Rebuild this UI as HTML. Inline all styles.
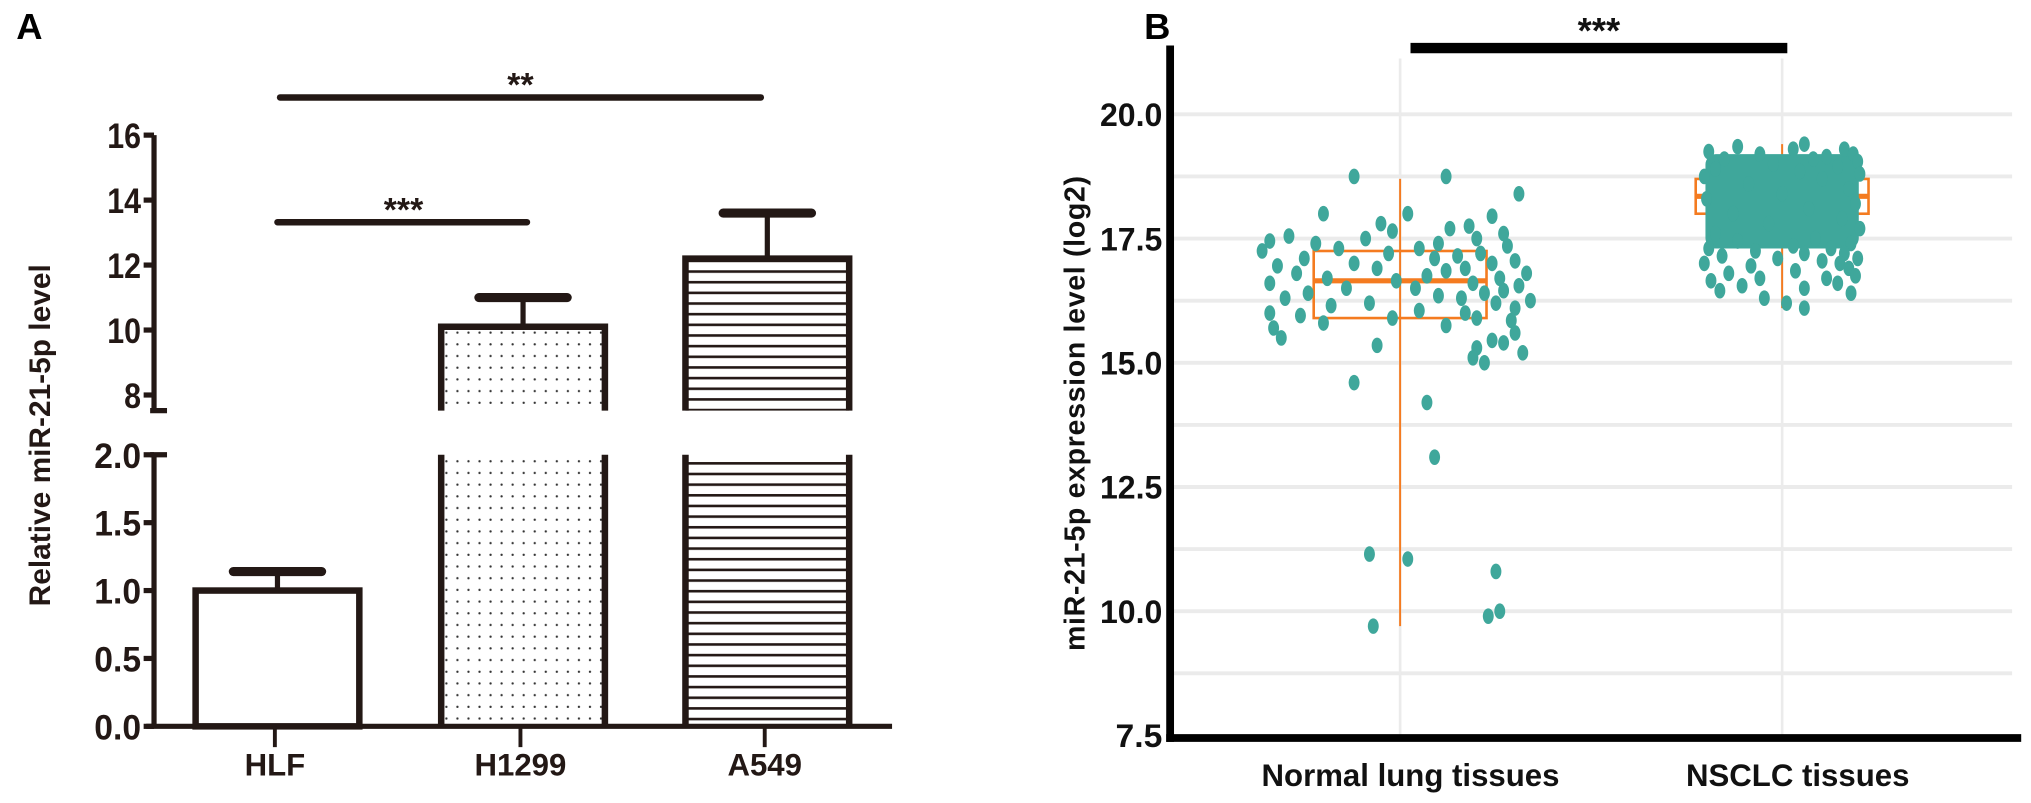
<!DOCTYPE html>
<html><head><meta charset="utf-8"><style>
html,body{margin:0;padding:0;background:#fff;}
svg{display:block;font-family:"Liberation Sans",Arial,sans-serif;}
</style></head><body>
<svg id="fig" width="2031" height="803" viewBox="0 0 1562 618" xmlns="http://www.w3.org/2000/svg">
<defs>
<pattern id="dots" width="8.5" height="9" patternUnits="userSpaceOnUse"><circle cx="3" cy="4" r="0.9" fill="#333"/></pattern>
<pattern id="hlines" width="10" height="8.2" patternUnits="userSpaceOnUse"><rect x="0" y="3" width="10" height="2" fill="#231815"/></pattern>
</defs>
<g id="panelA"></g>
<g id="panelB"></g>
</svg>
<script>
// Panel A data
const aCats = ["HLF","H1299","A549"];
const aMeans = [1.0, 10.1, 12.2];
const aErr = [0.14, 0.9, 1.4];
const aUpperTicks = [8,10,12,14,16];
const aLowerTicks = [0.0,0.5,1.0,1.5,2.0];
const aUpperLabels = ["8","10","12","14","16"];
const aLowerLabels = ["0.0","0.5","1.0","1.5","2.0"];
// Panel B data
const bCats = ["Normal lung tissues","NSCLC tissues"];
const bTicks = [7.5,10,12.5,15,17.5,20];
const bTickLabels = ["7.5","10.0","12.5","15.0","17.5","20.0"];
const bGrid = [8.75,10,11.25,12.5,13.75,15,16.25,17.5,18.75,20];
const bQ1 = [15.9, 18.0];
const bMed = [16.65, 18.35];
const bQ3 = [17.25, 18.7];
const bWLo = [9.7, 16.1];
const bWHi = [18.7, 19.4];
const normalVals = [18.75,18.75,18.4,18.0,18.0,17.95,17.8,17.75,17.7,17.65,17.6,17.55,17.5,17.5,17.45,17.4,17.4,17.35,17.3,17.3,17.25,17.2,17.2,17.15,17.1,17.1,17.05,17.0,17.0,16.95,16.9,16.9,16.85,16.8,16.8,16.75,16.7,16.7,16.65,16.6,16.6,16.55,16.5,16.5,16.45,16.4,16.4,16.35,16.3,16.3,16.25,16.2,16.2,16.15,16.1,16.05,16.0,16.0,15.95,15.9,15.9,15.85,15.8,15.75,15.7,15.6,15.5,15.45,15.4,15.35,15.3,15.2,15.1,15.0,14.6,14.2,13.1,11.15,11.05,10.8,10.0,9.9,9.7];
const normalJit = [-0.12,0.12,0.31,-0.2,0.02,0.24,-0.05,0.18,0.13,-0.02,0.27,-0.29,-0.09,0.2,-0.34,0.1,-0.22,0.28,0.05,-0.16,-0.36,0.21,-0.03,0.15,-0.25,0.09,0.3,-0.12,0.24,-0.32,-0.06,0.17,0.12,-0.27,0.33,0.07,-0.19,0.26,-0.01,-0.34,0.19,0.31,-0.14,0.04,0.27,-0.24,0.22,0.1,-0.3,0.16,0.34,-0.08,0.25,-0.18,0.3,0.05,-0.34,0.17,-0.26,0.2,-0.02,0.29,-0.2,0.12,-0.33,0.3,-0.31,0.24,0.27,-0.06,0.2,0.32,0.19,0.22,-0.12,0.07,0.09,-0.08,0.02,0.25,0.26,0.23,-0.07];
const nsclcVals = [19.4,19.35,19.3,19.3,19.25,19.2,19.2,19.15,19.1,19.1,19.05,19.0,18.95,18.9,18.85,18.8,18.75,18.7,18.6,18.5,18.4,18.3,18.2,18.1,18.0,17.9,17.8,17.7,17.6,17.5,17.45,17.4,17.35,17.3,17.3,17.25,17.2,17.2,17.15,17.1,17.1,17.05,17.0,17.0,16.95,16.9,16.85,16.8,16.75,16.7,16.7,16.65,16.6,16.55,16.5,16.45,16.4,16.3,16.2,16.1];
const nsclcJit = [0.1,-0.2,0.28,0.05,-0.33,0.32,-0.1,0.2,-0.26,0.14,0.34,-0.04,0.25,-0.3,0.08,0.35,-0.35,0.18,-0.15,0.3,0.0,-0.34,0.33,0.12,-0.22,0.27,-0.06,0.35,-0.3,0.15,-0.2,0.31,0.05,-0.33,0.22,-0.12,0.28,0.1,-0.27,0.34,-0.02,0.18,-0.35,0.26,-0.14,0.3,0.06,-0.24,0.33,-0.1,0.2,-0.32,0.25,-0.18,0.1,-0.28,0.31,-0.08,0.02,0.1];
const nsclcCore = [17.3, 19.2];

const NS="http://www.w3.org/2000/svg";
function mk(parent,tag,attrs,name,text){
  const e=document.createElementNS(NS,tag);
  for(const k in attrs) e.setAttribute(k,attrs[k]);
  
  
  if(text!==undefined) e.textContent=text;
  parent.appendChild(e); return e;
}
const INK="#231815";
// ---------- Panel A ----------
const A=document.getElementById('panelA');
const axA=118;
function yUp(v){return 304-(v-8)*25;}
function yLo(v){return 559-v*104.5;}
const aX=[213,402,590], aBW=126;
const aFill=["#fff","url(#dots)","url(#hlines)"];
mk(A,'text',{x:12,y:30,'font-size':28,'font-weight':'bold',fill:'#000'},'panel-a-label','A');
mk(A,'text',{x:0,y:0,'font-size':23,'font-weight':'bold',fill:INK,'text-anchor':'middle',transform:'translate(38,335) rotate(-90)'},'y-axis-title-a','Relative miR-21-5p level');
mk(A,'line',{x1:axA,y1:yUp(16),x2:axA,y2:316,stroke:INK,'stroke-width':4},'y-axis-upper');
mk(A,'line',{x1:axA-3,y1:316,x2:axA+10,y2:316,stroke:INK,'stroke-width':4},'axis-break-upper');
mk(A,'line',{x1:axA,y1:yLo(2),x2:axA,y2:yLo(0),stroke:INK,'stroke-width':4},'y-axis-lower');
mk(A,'line',{x1:axA-3,y1:yLo(2),x2:axA+10,y2:yLo(2),stroke:INK,'stroke-width':4},'axis-break-lower');
mk(A,'line',{x1:axA-6,y1:yLo(0),x2:686,y2:yLo(0),stroke:INK,'stroke-width':4},'x-axis-a');
aUpperTicks.forEach((t,i)=>{
  mk(A,'line',{x1:axA-8,y1:yUp(t),x2:axA,y2:yUp(t),stroke:INK,'stroke-width':4},'y-tick-upper');
  mk(A,'text',{x:axA-10,y:yUp(t)+10,'font-size':27,'font-weight':'bold',fill:INK,'text-anchor':'end','textLength':aUpperLabels[i].length*13,'lengthAdjust':'spacingAndGlyphs'},'y-tick-label',aUpperLabels[i]);
});
aLowerTicks.forEach((t,i)=>{
  mk(A,'line',{x1:axA-8,y1:yLo(t),x2:axA,y2:yLo(t),stroke:INK,'stroke-width':4},'y-tick-lower');
  mk(A,'text',{x:axA-10,y:yLo(t)+10,'font-size':27,'font-weight':'bold',fill:INK,'text-anchor':'end','textLength':36,'lengthAdjust':'spacingAndGlyphs'},'y-tick-label',aLowerLabels[i]);
});
aCats.forEach((c,i)=>{
  const x=aX[i], l=x-aBW/2, r=x+aBW/2, m=aMeans[i], e=aErr[i];
  if(m<=2){
    const top=yLo(m);
    mk(A,'rect',{x:l,y:top,width:aBW,height:yLo(0)-top,fill:aFill[i],stroke:INK,'stroke-width':5},'bar-'+c.toLowerCase());
    mk(A,'line',{x1:x,y1:top,x2:x,y2:yLo(m+e),stroke:INK,'stroke-width':4},'error-bar-'+c.toLowerCase());
    mk(A,'line',{x1:x-34,y1:yLo(m+e),x2:x+34,y2:yLo(m+e),stroke:INK,'stroke-width':7,'stroke-linecap':'round'},'error-cap-'+c.toLowerCase());
  } else {
    const top=yUp(m);
    mk(A,'rect',{x:l,y:top,width:aBW,height:316-top,fill:aFill[i],stroke:'none'},'bar-upper-fill');
    mk(A,'path',{d:`M${l},316 V${top} H${r} V316`,fill:'none',stroke:INK,'stroke-width':5},'bar-upper-'+c.toLowerCase());
    mk(A,'rect',{x:l,y:yLo(2),width:aBW,height:yLo(0)-yLo(2),fill:aFill[i],stroke:'none'},'bar-lower-fill');
    mk(A,'path',{d:`M${l},${yLo(2)} V${yLo(0)} M${r},${yLo(2)} V${yLo(0)}`,fill:'none',stroke:INK,'stroke-width':5},'bar-lower-'+c.toLowerCase());
    mk(A,'line',{x1:x,y1:top,x2:x,y2:yUp(m+e),stroke:INK,'stroke-width':4},'error-bar-'+c.toLowerCase());
    mk(A,'line',{x1:x-34,y1:yUp(m+e),x2:x+34,y2:yUp(m+e),stroke:INK,'stroke-width':7,'stroke-linecap':'round'},'error-cap-'+c.toLowerCase());
  }
  mk(A,'line',{x1:x-2,y1:yLo(0),x2:x-2,y2:yLo(0)+16,stroke:INK,'stroke-width':3},'x-tick');
  mk(A,'text',{x:x-2,y:597,'font-size':24,'font-weight':'bold',fill:INK,'text-anchor':'middle'},'x-tick-label',c);
});
mk(A,'line',{x1:213,y1:171,x2:405,y2:171,stroke:INK,'stroke-width':5,'stroke-linecap':'round'},'significance-line-h1299');
mk(A,'text',{x:310,y:170,'font-size':26,'font-weight':'bold',fill:INK,'text-anchor':'middle'},'significance-stars-h1299','***');
mk(A,'line',{x1:215,y1:75,x2:585,y2:75,stroke:INK,'stroke-width':5,'stroke-linecap':'round'},'significance-line-a549');
mk(A,'text',{x:400,y:74,'font-size':26,'font-weight':'bold',fill:INK,'text-anchor':'middle'},'significance-stars-a549','**');

// ---------- Panel B ----------
const B=document.getElementById('panelB');
const axB=900, rightB=1548, baseB=568;
function yB(v){return 88+(20-v)*38.24;}
const bX=[1077,1371], bBoxW=[133,133], jitW=295;
const TEAL="#3fa79b", ORANGE="#f47b20";
mk(B,'text',{x:880,y:30,'font-size':28,'font-weight':'bold',fill:'#000'},'panel-b-label','B');
bGrid.forEach(g=>mk(B,'line',{x1:axB,y1:yB(g),x2:rightB,y2:yB(g),stroke:'#ebebeb','stroke-width':3},'gridline-y'));
bX.forEach(x=>mk(B,'line',{x1:x,y1:45,x2:x,y2:baseB,stroke:'#ebebeb','stroke-width':2},'gridline-x'));
mk(B,'text',{x:0,y:0,'font-size':22,'font-weight':'bold',fill:'#111','text-anchor':'middle','letter-spacing':'0.5',transform:'translate(834,318) rotate(-90)'},'y-axis-title-b','miR-21-5p expression level (log2)');
bTicks.forEach((t,i)=>{
  mk(B,'text',{x:axB-6,y:yB(t)+9,'font-size':25,'font-weight':'bold',fill:'#111','text-anchor':'end','textLength':bTickLabels[i].length*12,'lengthAdjust':'spacingAndGlyphs'},'y-tick-label-b',bTickLabels[i]);
});
bCats.forEach((c,i)=>{
  const x=bX[i], w=bBoxW[i];
  mk(B,'line',{x1:x,y1:yB(bWHi[i]),x2:x,y2:yB(bWLo[i]),stroke:ORANGE,'stroke-width':1.5},'whisker-'+i);
  mk(B,'rect',{x:x-w/2,y:yB(bQ3[i]),width:w,height:yB(bQ1[i])-yB(bQ3[i]),fill:'none',stroke:ORANGE,'stroke-width':2},'box-'+i);
  mk(B,'line',{x1:x-w/2,y1:yB(bMed[i]),x2:x+w/2,y2:yB(bMed[i]),stroke:ORANGE,'stroke-width':4},'median-'+i);
});
normalVals.forEach((v,i)=>{
  mk(B,'ellipse',{cx:bX[0]+normalJit[i]*jitW,cy:yB(v),rx:4.2,ry:6,fill:TEAL},'point-normal');
});
mk(B,'rect',{x:bX[1]-0.2*jitW,y:yB(nsclcCore[1]),width:0.4*jitW,height:yB(nsclcCore[0])-yB(nsclcCore[1]),rx:8,fill:TEAL},'point-cloud-nsclc');
nsclcVals.forEach((v,i)=>{
  mk(B,'ellipse',{cx:bX[1]+nsclcJit[i]*jitW*0.58,cy:yB(v),rx:4.2,ry:6,fill:TEAL},'point-nsclc');
});
mk(B,'line',{x1:axB,y1:35,x2:axB,y2:baseB+3,stroke:'#000','stroke-width':6},'y-axis-b');
mk(B,'line',{x1:axB-3,y1:baseB,x2:rightB+7,y2:baseB,stroke:'#000','stroke-width':6},'x-axis-b');
bCats.forEach((c,i)=>mk(B,'text',{x:bX[i]+(i?12:8),y:605,'font-size':24,'font-weight':'bold',fill:'#111','text-anchor':'middle'},'x-tick-label-b',c));
mk(B,'line',{x1:1085,y1:37,x2:1375,y2:37,stroke:'#000','stroke-width':8},'significance-line-b');
mk(B,'text',{x:1230,y:33,'font-size':28,'font-weight':'bold',fill:'#111','text-anchor':'middle'},'significance-stars-b','***');
</script>
</body></html>
